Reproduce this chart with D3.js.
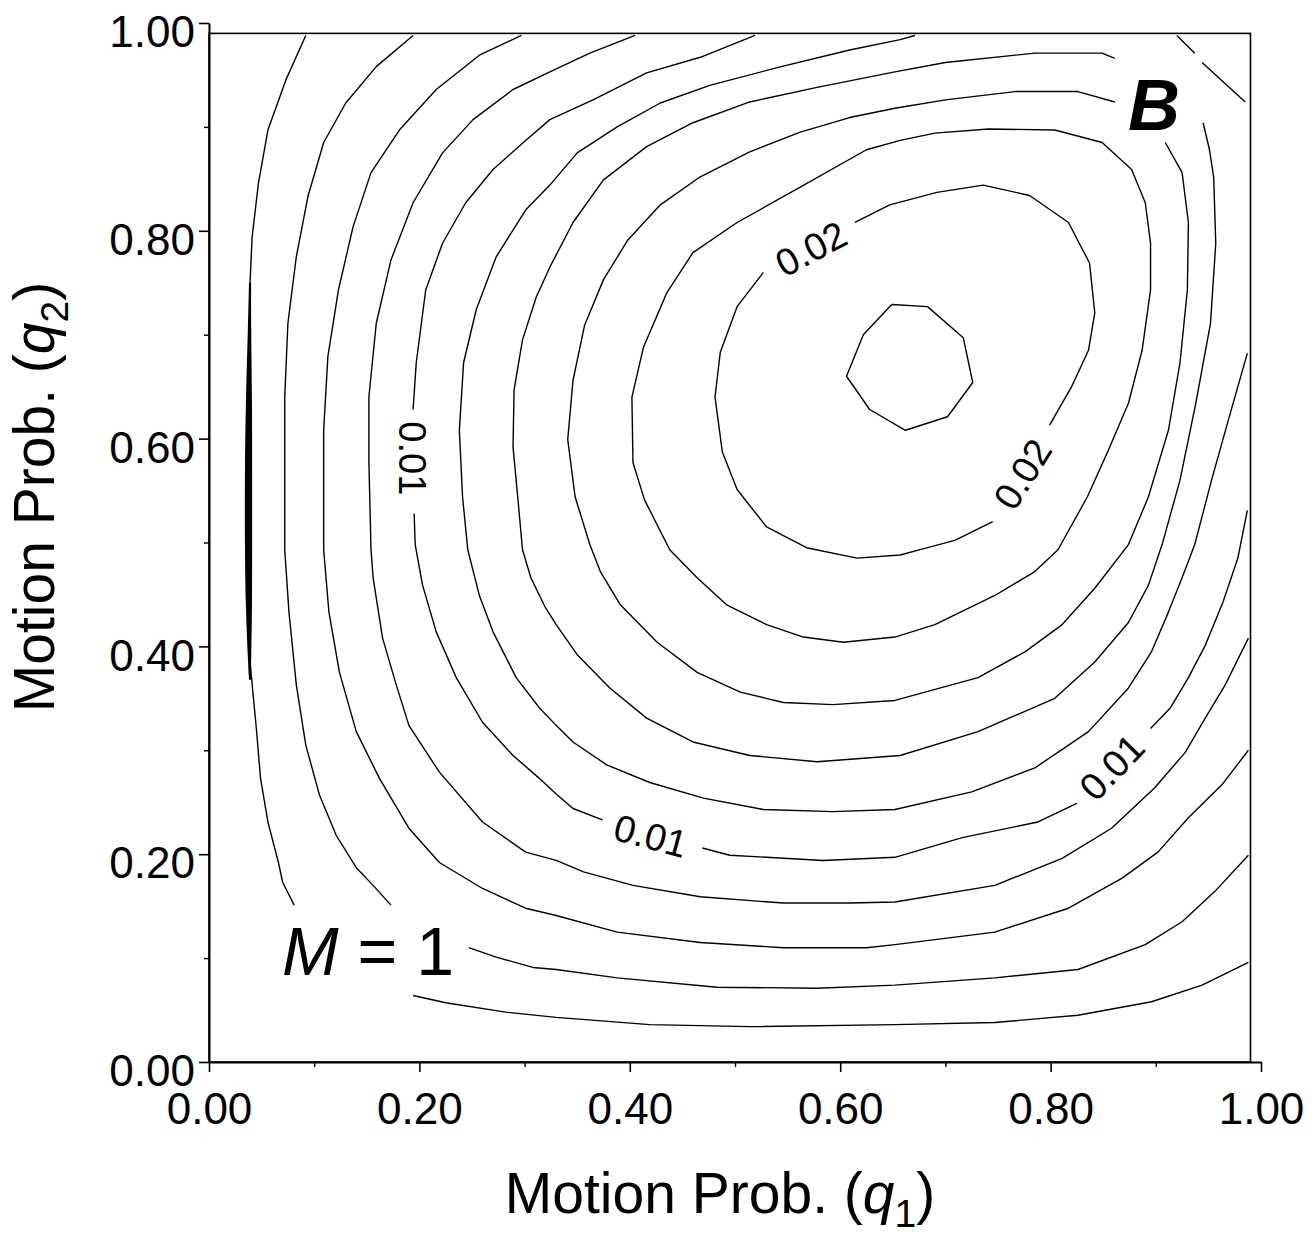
<!DOCTYPE html>
<html lang=en>
<head>
<meta charset="utf-8">
<title>motion prob contour M=1</title>
<script src="https://cdn.jsdelivr.net/npm/d3@7"></script>
<style>
body{margin:0;background:#fff;}
text{font-family:"Liberation Sans",Arial,sans-serif;fill:#000;}
</style>
</head>
<body>
<script>
// contour levels, 0.002 apart, peak near (0.65,0.66)
var levels = [0.002,0.004,0.006,0.008,0.010,0.012,0.014,0.016,0.018,0.020,0.022];
var xMajor = [0,0.2,0.4,0.6,0.8,1.0];
var xMinor = [0.1,0.3,0.5,0.7,0.9];
var yMajor = [0,0.2,0.4,0.6,0.8,1.0];
var yMinor = [0.1,0.3,0.5,0.7,0.9];

// each contour as [q1,q2] points, split where the picture breaks it (labels)
var c002a = [[0.092,0.988],[0.073,0.945],[0.056,0.897],[0.047,0.846],[0.041,0.794],[0.039,0.750],[0.039,0.673],[0.039,0.589],[0.039,0.493],[0.039,0.385],[0.045,0.321],[0.049,0.273],[0.056,0.231],[0.066,0.192],[0.070,0.173],[0.081,0.151]];
var c002b = [[0.194,0.064],[0.225,0.057],[0.282,0.048],[0.330,0.043],[0.419,0.036],[0.514,0.034],[0.652,0.036],[0.747,0.038],[0.826,0.045],[0.896,0.058],[0.944,0.074],[0.988,0.096]];
// heavy stretch of the 0.002 line on the left: [q2, q1 left, q1 right]
var c002heavy = [[0.750,0.038,0.040],[0.705,0.037,0.040],[0.637,0.035,0.041],[0.570,0.034,0.041],[0.493,0.034,0.041],[0.435,0.035,0.041],[0.387,0.037,0.040],[0.368,0.038,0.040]];

var c004a = [[0.194,0.988],[0.159,0.958],[0.130,0.923],[0.109,0.885],[0.094,0.833],[0.083,0.775],[0.075,0.711],[0.072,0.640],[0.072,0.493],[0.076,0.433],[0.083,0.363],[0.092,0.305],[0.105,0.257],[0.121,0.218],[0.140,0.187],[0.156,0.170],[0.173,0.151]];
var c004b = [[0.247,0.110],[0.273,0.101],[0.308,0.091],[0.330,0.089],[0.388,0.081],[0.483,0.072],[0.578,0.071],[0.652,0.074],[0.747,0.081],[0.826,0.089],[0.890,0.113],[0.925,0.135],[0.956,0.164],[0.988,0.199]];

var c006 = [[0.297,0.988],[0.257,0.969],[0.216,0.936],[0.181,0.897],[0.154,0.856],[0.137,0.804],[0.123,0.743],[0.113,0.679],[0.109,0.608],[0.109,0.493],[0.114,0.433],[0.124,0.375],[0.140,0.318],[0.162,0.273],[0.190,0.225],[0.219,0.192],[0.260,0.167],[0.301,0.148],[0.330,0.141],[0.388,0.125],[0.467,0.115],[0.546,0.110],[0.625,0.110],[0.652,0.113],[0.747,0.125],[0.817,0.148],[0.868,0.177],[0.902,0.202],[0.931,0.235],[0.963,0.267],[0.988,0.300]];

var c008 = [[0.405,0.988],[0.362,0.971],[0.324,0.953],[0.289,0.936],[0.251,0.907],[0.222,0.875],[0.194,0.827],[0.173,0.772],[0.159,0.711],[0.152,0.640],[0.152,0.577],[0.154,0.493],[0.156,0.466],[0.165,0.408],[0.178,0.363],[0.190,0.324],[0.219,0.279],[0.260,0.231],[0.301,0.202],[0.330,0.194],[0.356,0.183],[0.403,0.170],[0.467,0.159],[0.546,0.153],[0.609,0.153],[0.652,0.154],[0.747,0.170],[0.811,0.196],[0.858,0.225],[0.899,0.264],[0.928,0.298],[0.947,0.331],[0.966,0.363],[0.988,0.408]];

var c010a = [[0.519,0.988],[0.467,0.967],[0.416,0.952],[0.365,0.926],[0.324,0.907],[0.301,0.887],[0.270,0.859],[0.244,0.827],[0.222,0.788],[0.206,0.743],[0.197,0.673],[0.194,0.628]];
var c010b = [[0.195,0.528],[0.196,0.498],[0.203,0.459],[0.216,0.414],[0.235,0.370],[0.260,0.327],[0.289,0.295],[0.314,0.273],[0.330,0.258],[0.346,0.244],[0.374,0.233]];
var c010c = [[0.469,0.206],[0.495,0.199],[0.584,0.194],[0.652,0.197],[0.716,0.216],[0.788,0.231],[0.825,0.249]];
var c010d = [[0.895,0.321],[0.914,0.341],[0.931,0.370],[0.947,0.401],[0.964,0.443],[0.978,0.485],[0.987,0.531]];

var c012a = [[0.671,0.988],[0.657,0.984],[0.609,0.974],[0.540,0.957],[0.476,0.940],[0.429,0.923],[0.388,0.900],[0.350,0.875],[0.324,0.844],[0.301,0.820],[0.273,0.775],[0.254,0.724],[0.242,0.673],[0.238,0.608],[0.241,0.544],[0.246,0.493],[0.257,0.449],[0.270,0.414],[0.292,0.370],[0.314,0.341],[0.330,0.324],[0.346,0.308],[0.378,0.286],[0.419,0.269],[0.470,0.254],[0.527,0.243],[0.593,0.241],[0.652,0.243],[0.725,0.260],[0.785,0.283],[0.836,0.318],[0.874,0.360],[0.896,0.395],[0.912,0.433],[0.925,0.466],[0.937,0.498],[0.953,0.560],[0.969,0.618],[0.987,0.682]];
var c012b = [[0.920,0.988],[0.937,0.971]];
var c012c = [[0.944,0.962],[0.985,0.924]];

var c014 = [[0.861,0.966],[0.849,0.971],[0.785,0.971],[0.700,0.962],[0.652,0.953],[0.578,0.938],[0.514,0.924],[0.460,0.904],[0.416,0.881],[0.375,0.849],[0.346,0.808],[0.324,0.765],[0.311,0.736],[0.298,0.695],[0.290,0.647],[0.289,0.592],[0.294,0.538],[0.298,0.493],[0.306,0.466],[0.320,0.437],[0.330,0.421],[0.350,0.392],[0.381,0.360],[0.416,0.331],[0.460,0.308],[0.514,0.295],[0.578,0.289],[0.657,0.295],[0.731,0.318],[0.804,0.350],[0.842,0.385],[0.874,0.423],[0.893,0.459],[0.906,0.498],[0.923,0.560],[0.938,0.634],[0.952,0.711],[0.957,0.788],[0.955,0.852],[0.951,0.878],[0.945,0.904]];

var c016 = [[0.861,0.924],[0.826,0.934],[0.766,0.934],[0.700,0.926],[0.652,0.918],[0.609,0.909],[0.562,0.895],[0.514,0.876],[0.467,0.852],[0.429,0.825],[0.398,0.791],[0.375,0.753],[0.357,0.709],[0.346,0.656],[0.341,0.599],[0.348,0.544],[0.362,0.498],[0.372,0.472],[0.391,0.440],[0.426,0.404],[0.464,0.375],[0.505,0.356],[0.546,0.346],[0.593,0.344],[0.652,0.348],[0.731,0.370],[0.776,0.395],[0.811,0.421],[0.842,0.456],[0.874,0.498],[0.893,0.544],[0.912,0.608],[0.923,0.673],[0.930,0.743],[0.931,0.808],[0.925,0.856],[0.909,0.885]];

var c018 = [[0.438,0.493],[0.414,0.541],[0.403,0.577],[0.402,0.640],[0.413,0.688],[0.435,0.740],[0.460,0.779],[0.502,0.808],[0.562,0.842],[0.625,0.878],[0.657,0.887],[0.690,0.894],[0.741,0.898],[0.804,0.897],[0.849,0.885],[0.877,0.859],[0.890,0.827],[0.895,0.788],[0.895,0.743],[0.887,0.685],[0.874,0.634],[0.855,0.589],[0.835,0.544],[0.807,0.493],[0.785,0.472],[0.747,0.449],[0.690,0.421],[0.652,0.409],[0.603,0.404],[0.565,0.409],[0.530,0.421],[0.492,0.440],[0.464,0.466],[0.438,0.493]];

var c020a = [[0.614,0.808],[0.647,0.825],[0.692,0.837],[0.736,0.844],[0.780,0.834],[0.817,0.808],[0.837,0.769],[0.842,0.721],[0.836,0.685],[0.820,0.650],[0.799,0.613]];
var c020b = [[0.745,0.520],[0.709,0.502],[0.683,0.495],[0.657,0.488],[0.616,0.485],[0.568,0.495],[0.530,0.515],[0.502,0.551],[0.488,0.587],[0.481,0.640],[0.486,0.683],[0.502,0.727],[0.527,0.760]];

var c022 = [[0.649,0.729],[0.683,0.727],[0.717,0.697],[0.726,0.654],[0.702,0.621],[0.662,0.608],[0.628,0.628],[0.606,0.660],[0.622,0.700],[0.649,0.729]];

// inline contour labels: text, q1, q2, angle
var labelText = ["0.01","0.02","0.02","0.01","0.01"];
var labelQ1 = [0.194,0.572,0.773,0.420,0.858];
var labelQ2 = [0.581,0.783,0.566,0.218,0.284];
var labelAngle = [90,-28,-58,15,-46];

var contourLines = [c002a,c002b,c004a,c004b,c006,c008,c010a,c010b,c010c,c010d,c012a,c012b,c012c,c014,c016,c018,c020a,c020b,c022];

var W = 1315, H = 1248;
var svg = d3.select("body").append("svg")
	.attr("width", W)
	.attr("height", H)
	.style("background", "#fff");

var x = d3.scaleLinear().domain([0,1]).range([209,1261]);
var y = d3.scaleLinear().domain([0,1]).range([1062,23]);
var fmt = d3.format(".2f");

// frame round the computed grid (0..0.99)
svg.append("rect")
	.attr("x", x(0))
	.attr("y", y(0.99))
	.attr("width", x(0.99) - x(0))
	.attr("height", y(0) - y(0.99))
	.attr("fill", "none")
	.attr("stroke", "#000")
	.attr("stroke-width", 1.6);

var line = d3.line()
	.x(function(d){ return x(d[0]); })
	.y(function(d){ return y(d[1]); });

svg.append("g").selectAll("path")
	.data(contourLines)
	.enter()
	.append("path")
	.attr("d", line)
	.attr("fill", "none")
	.attr("stroke", "#000")
	.attr("stroke-width", 1.4)
	.attr("stroke-linejoin", "round");

var heavy = d3.area()
	.y(function(d){ return y(d[0]); })
	.x0(function(d){ return x(d[1]); })
	.x1(function(d){ return x(d[2]); })
	.curve(d3.curveBasis);
svg.append("path")
	.datum(c002heavy)
	.attr("d", heavy)
	.attr("fill", "#000");

svg.append("g").selectAll("text")
	.data(labelText)
	.enter()
	.append("text")
	.attr("transform", function(d, i){
		return "translate(" + x(labelQ1[i]) + "," + y(labelQ2[i]) + ") rotate(" + labelAngle[i] + ")";
	})
	.attr("text-anchor", "middle")
	.attr("dy", "0.36em")
	.style("font-size", "38px")
	.text(function(d){ return d; });

// axes
function styleAxis(g){
	g.selectAll("path.domain").attr("stroke-width", 2);
	g.selectAll(".tick line").attr("stroke-width", 1.6);
	g.selectAll("text").style("font-size", "44px").attr("font-family", null);
}

var xAxis = svg.append("g")
	.attr("transform", "translate(0," + y(0) + ")")
	.call(d3.axisBottom(x).tickValues(xMajor).tickFormat(fmt).tickSize(10).tickSizeOuter(0).tickPadding(21));
styleAxis(xAxis);
svg.append("g")
	.attr("transform", "translate(0," + y(0) + ")")
	.call(d3.axisBottom(x).tickValues(xMinor).tickFormat("").tickSize(5).tickSizeOuter(0))
	.call(function(g){ g.select(".domain").remove(); g.selectAll("line").attr("stroke-width", 1.4); });

var yAxis = svg.append("g")
	.attr("transform", "translate(" + x(0) + ",0)")
	.call(d3.axisLeft(y).tickValues(yMajor).tickFormat(fmt).tickSize(10).tickSizeOuter(0).tickPadding(4));
styleAxis(yAxis);
yAxis.selectAll("text").attr("dy", "0.54em");
svg.append("g")
	.attr("transform", "translate(" + x(0) + ",0)")
	.call(d3.axisLeft(y).tickValues(yMinor).tickFormat("").tickSize(5).tickSizeOuter(0))
	.call(function(g){ g.select(".domain").remove(); g.selectAll("line").attr("stroke-width", 1.4); });

// axis titles
var xt = svg.append("text")
	.attr("x", 720)
	.attr("y", 1213)
	.attr("text-anchor", "middle")
	.style("font-size", "57px");
xt.append("tspan").text("Motion Prob. (");
xt.append("tspan").style("font-style", "italic").text("q");
xt.append("tspan").attr("dy", 14).style("font-size", "39px").text("1");
xt.append("tspan").attr("dy", -14).text(")");

var yt = svg.append("text")
	.attr("transform", "translate(54,497) rotate(-90)")
	.attr("text-anchor", "middle")
	.style("font-size", "57px");
yt.append("tspan").text("Motion Prob. (");
yt.append("tspan").style("font-style", "italic").text("q");
yt.append("tspan").attr("dy", 14).style("font-size", "39px").text("2");
yt.append("tspan").attr("dy", -14).text(")");

// panel letter and M annotation
svg.append("text")
	.attr("x", 1128)
	.attr("y", 130)
	.style("font-size", "72px")
	.style("font-weight", "bold")
	.style("font-style", "italic")
	.text("B");

var mt = svg.append("text")
	.attr("x", 282)
	.attr("y", 975)
	.style("font-size", "68px");
mt.append("tspan").style("font-style", "italic").text("M");
mt.append("tspan").text(" = 1");
</script>
</body>
</html>
